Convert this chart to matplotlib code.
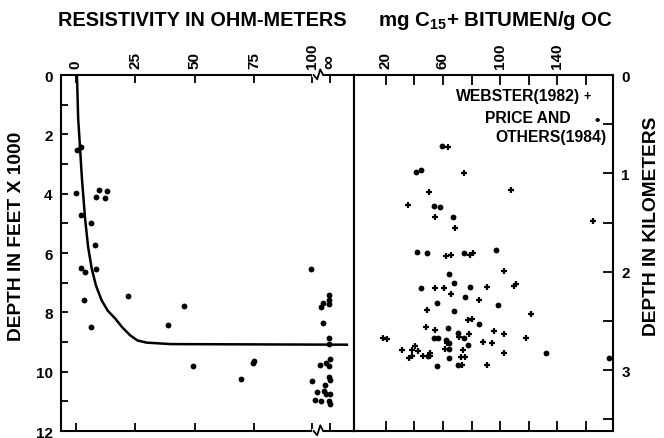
import matplotlib
matplotlib.use("Agg")
import matplotlib.pyplot as plt
import numpy as np

plt.rcParams['font.family'] = ['Liberation Sans', 'DejaVu Sans']
plt.rcParams['font.weight'] = 'bold'
plt.rcParams['mathtext.fontset'] = 'custom'
plt.rcParams['mathtext.rm'] = 'Liberation Sans:bold'
plt.rcParams['mathtext.bf'] = 'Liberation Sans:bold'

# ---------------- data ----------------
# left panel: resistivity (ohm-m) vs depth (1000 ft); values past the break are "infinite"
res_ohm = [0.4, 2.1, 0.1, 9.7, 13.0, 8.5, 12.5, 2.4, 6.6, 8.0, 2.1, 3.8, 8.5, 3.5, 6.3,
           22.1, 45.6, 38.9, 49.4, 74.6, 75.0, 69.6,
           98.9, 106.3, 106.6, 106.6, 103.8, 103.0, 103.9, 106.6, 106.3, 102.8, 105.4,
           106.6, 106.8, 106.3, 106.8, 99.4, 104.6, 101.5, 104.3, 105.1, 106.8, 100.7,
           103.0, 106.6, 106.8]
res_depth = [2.54, 2.44, 3.96, 3.87, 3.90, 4.12, 4.16, 4.71, 5.00, 5.74, 6.52, 6.63, 6.55, 7.57, 8.51,
             7.46, 7.80, 8.41, 9.80, 9.71, 9.64, 10.25,
             6.54, 7.42, 7.59, 7.72, 7.68, 7.83, 8.37, 8.87, 9.08, 9.76, 9.71,
             9.80, 9.56, 10.18, 10.29, 10.31, 10.46, 10.69, 10.65, 10.75, 10.76, 10.95,
             10.98, 11.00, 11.08]

# trend curve
curve_res = [0.5, 1.0, 1.8, 2.6, 3.9, 5.2, 6.7, 8.5, 10.9, 13.5, 16.5, 19.5, 22.8, 26.0, 29.8, 40.0, 114.0]
curve_depth = [0.0, 1.45, 2.47, 3.5, 4.83, 5.8, 6.52, 7.1, 7.6, 7.95, 8.2, 8.5, 8.77, 8.95, 9.02, 9.07, 9.09]

# right panel: bitumen (mg/g OC) vs depth (km)
price_bit = [59.1, 41.4, 44.4, 53.7, 57.7, 67.0, 41.9, 48.8, 74.5, 97.1, 64.4, 67.9, 44.7, 78.7,
             75.4, 55.6, 98.7, 67.9, 85.2, 63.5, 70.7, 74.5, 53.9, 56.7, 62.1, 64.4, 63.9, 63.9,
             49.5, 55.8, 70.5, 131.8, 176.3, 77.7]
price_km = [0.725, 0.99, 0.97, 1.336, 1.34, 1.44, 1.80, 1.81, 1.81, 1.78, 2.02, 2.11, 2.17, 2.16,
            2.255, 2.32, 2.34, 2.40, 2.53, 2.57, 2.62, 2.67, 2.67, 2.67, 2.69, 2.73, 2.79, 2.88,
            2.86, 2.96, 2.95, 2.83, 2.88, 2.75]

webster_bit = [63.3, 74.9, 107.8, 50.5, 35.8, 54.7, 68.6, 165.1, 62.1, 65.8, 78.9, 81.2, 102.9,
               110.8, 109.4, 54.7, 60.5, 90.6, 65.6, 85.4, 48.8, 121.5, 77.7, 80.5, 48.1, 54.7,
               95.7, 102.9, 18.3, 20.7, 71.2, 77.9, 117.8, 88.0, 94.1, 63.1, 61.7, 31.6, 40.5,
               38.1, 42.3, 36.0, 38.4, 46.1, 50.9, 50.9, 73.8, 72.6, 75.4, 102.4, 90.6, 73.5]
webster_km = [0.736, 1.00, 1.17, 1.19, 1.32, 1.44, 1.56, 1.485, 1.84, 1.83, 1.83, 1.81, 1.99,
              2.13, 2.15, 2.17, 2.17, 2.16, 2.23, 2.29, 2.39, 2.43, 2.49, 2.48, 2.56, 2.59,
              2.60, 2.63, 2.67, 2.68, 2.66, 2.63, 2.67, 2.71, 2.73, 2.72, 2.79, 2.80, 2.76,
              2.80, 2.81, 2.88, 2.86, 2.86, 2.86, 2.83, 2.80, 2.87, 2.87, 2.83, 2.95, 2.95]

res_ticks = [0, 25, 50, 75, 99.5, 107]
res_labels = ['0', '25', '50', '75', '100', '\u221e']
bit_ticks = [20, 40, 60, 80, 100, 120, 140, 160]
bit_labels = ['20', '', '60', '', '100', '', '140', '']

# ---------------- figure ----------------
fig = plt.figure(figsize=(6.64, 4.39), dpi=100)
ax1 = fig.add_axes([0.0919, 0.0159, 0.4413, 0.8109])
ax2 = fig.add_axes([0.5331, 0.0159, 0.3901, 0.8109])

for ax in (ax1, ax2):
    for s in ax.spines.values():
        s.set_linewidth(1.5)

# left panel
ax1.plot(curve_res, curve_depth, '-', color='black', lw=1.8)
ax1.plot(res_ohm, res_depth, 'o', color='black', ms=4.2, mew=0)
ax1.set_xlim(-6.2, 117.0)
ax1.set_ylim(12, 0)
ax1.set_yticks(np.arange(0, 13, 2))
ax1.set_yticks(np.arange(1, 12, 2), minor=True)
ax1.tick_params(axis='y', which='both', direction='in', length=5, width=1.3,
                labelsize=11, pad=6)
ax1.set_xticks(res_ticks)
ax1.set_xticklabels(res_labels, rotation=90)
ax1.tick_params(axis='x', direction='in', length=6, width=1.3, top=True, bottom=True,
                labeltop=True, labelbottom=False, labelsize=11, pad=5)
# bigger infinity sign
for lab in ax1.xaxis.get_majorticklabels():
    if lab.get_text() == '\u221e':
        lab.set_fontsize(14)

# axis break on top and bottom spines
for yb in (1.0, 0.0):
    ax1.plot([100.2, 103.3], [yb, yb], color='white', lw=3, transform=ax1.get_xaxis_transform(),
             clip_on=False, zorder=5)
    ax1.plot([100.0, 101.5, 102.8, 104.0], [yb, yb - 0.012, yb + 0.016, yb],
             color='black', lw=1.3, transform=ax1.get_xaxis_transform(), clip_on=False, zorder=6)

# right panel
ax2.plot(webster_bit, webster_km, '+', color='black', ms=5, mew=1.6)
ax2.plot(price_bit, price_km, 'o', color='black', ms=4.2, mew=0)
ax2.set_xlim(-2.2, 178.8)
ax2.set_ylim(3.62, 0)
ax2.set_xticks(bit_ticks)
ax2.set_xticklabels(bit_labels, rotation=90)
ax2.tick_params(axis='x', direction='in', length=7, width=1.3, top=True, bottom=True,
                labeltop=True, labelbottom=False, labelsize=11, pad=5)
ax2.set_yticks([0, 1, 2, 3])
ax2.set_yticks([0.5, 1.5, 2.5, 3.5], minor=True)
ax2.yaxis.tick_right()
ax2.tick_params(axis='y', which='both', direction='in', length=7, width=1.3,
                left=False, right=True, labelsize=11, pad=6)

# legend as text
ax2.text(156, 0.21, 'WEBSTER(1982)', ha='right', va='center', fontsize=11.3, fontweight='bold')
ax2.text(161, 0.21, '+', ha='center', va='center', fontsize=9, fontweight='bold')
ax2.text(149, 0.43, 'PRICE AND', ha='right', va='center', fontsize=11.3, fontweight='bold')
ax2.text(167.6, 0.455, '\u2022', ha='center', va='center', fontsize=11)
ax2.text(174.5, 0.63, 'OTHERS(1984)', ha='right', va='center', fontsize=11.3, fontweight='bold')

# titles and axis labels
fig.text(202 / 664, 1 - 21 / 439, 'RESISTIVITY IN OHM-METERS', ha='center', va='center',
         fontsize=14.3, fontweight='bold')
fig.text(496 / 664, 1 - 21 / 439, r'mg C$_{15}$+ BITUMEN/g OC', ha='center', va='center',
         fontsize=14.8, fontweight='bold')
fig.text(17 / 664, 1 - 236 / 439, 'DEPTH IN FEET X 1000', rotation=90, ha='center',
         va='center', fontsize=13.8, fontweight='bold')
fig.text(651 / 664, 1 - 226 / 439, 'DEPTH IN KILOMETERS', rotation=90, ha='center',
         va='center', fontsize=13.8, fontweight='bold')

fig.savefig('out.png', dpi=100)
